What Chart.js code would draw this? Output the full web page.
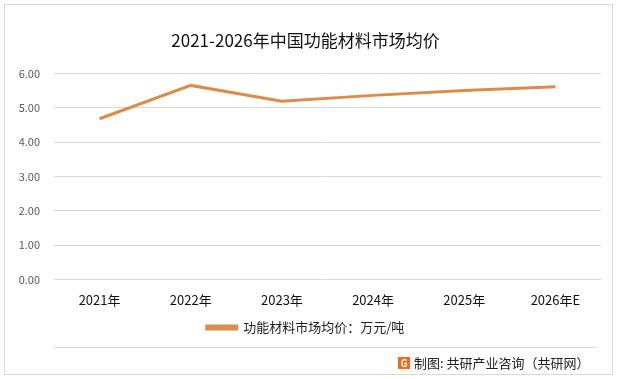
<!DOCTYPE html>
<html>
<head>
<meta charset="utf-8">
<script src="https://cdn.jsdelivr.net/npm/chart.js@4"></script>
<style>
  html, body { margin: 0; padding: 0; background: #fff; }
  #wrap { width: 617px; height: 379px; position: relative; }
</style>
</head>
<body>
<div id="wrap"><canvas id="chart" width="617" height="379"></canvas></div>
<script>
// 数据
const years = ['2021年', '2022年', '2023年', '2024年', '2025年', '2026年E'];
const avgPrice = [4.68, 5.65, 5.19, 5.36, 5.50, 5.61];
const seriesName = '功能材料市场均价：万元/吨';
const chartTitle = '2021-2026年中国功能材料市场均价';
const sourceText = '制图: 共研产业咨询（共研网）';

const lineColor = '#DC8C4A';
const fontFamily = '"Microsoft YaHei", "Noto Sans CJK SC", sans-serif';

// 外框、分隔线、底部来源
const framePlugin = {
    id: 'frame',
    beforeDraw(chart) {
        const ctx = chart.ctx;
        ctx.save();
        ctx.fillStyle = '#fff';
        ctx.fillRect(0, 0, chart.width, chart.height);
        ctx.strokeStyle = '#d9d9d9';
        ctx.lineWidth = 1;
        ctx.strokeRect(4.5, 4.5, chart.width - 9, chart.height - 9);
        ctx.restore();
    },
    afterDraw(chart) {
        const ctx = chart.ctx;
        ctx.save();
        // 分隔线
        ctx.strokeStyle = '#d9d9d9';
        ctx.beginPath();
        ctx.moveTo(54, 347.5);
        ctx.lineTo(596, 347.5);
        ctx.stroke();
        // logo
        ctx.fillStyle = '#F26B1D';
        ctx.fillRect(398, 357, 12, 12);
        ctx.fillStyle = '#fff';
        ctx.font = 'bold 10px ' + fontFamily;
        ctx.textAlign = 'center';
        ctx.textBaseline = 'middle';
        ctx.fillText('G', 404, 363.5);
        // 文字
        ctx.fillStyle = '#222';
        ctx.font = '13px ' + fontFamily;
        ctx.textAlign = 'left';
        ctx.fillText(sourceText, 414, 363.5);
        ctx.restore();
    }
};

const ctx = document.getElementById('chart').getContext('2d');
new Chart(ctx, {
    type: 'line',
    data: {
        labels: years,
        datasets: [{
            label: seriesName,
            data: avgPrice,
            borderColor: lineColor,
            backgroundColor: lineColor,
            borderWidth: 3,
            pointRadius: 0,
            tension: 0
        }]
    },
    options: {
        responsive: false,
        animation: false,
        devicePixelRatio: 1,
        layout: { padding: { left: 10, right: 16, top: 0, bottom: 35 } },
        plugins: {
            title: {
                display: true,
                text: chartTitle,
                color: '#111',
                font: { family: fontFamily, size: 17, weight: 'normal' },
                padding: { top: 30, bottom: 23 }
            },
            legend: {
                position: 'bottom',
                labels: {
                    color: '#222',
                    font: { family: fontFamily, size: 13 },
                    boxWidth: 30,
                    boxHeight: 3,
                    padding: 8
                }
            },
            tooltip: { enabled: false }
        },
        scales: {
            x: {
                offset: true,
                grid: { display: false },
                border: { display: false },
                ticks: {
                    color: '#111',
                    font: { family: fontFamily, size: 13 },
                    padding: 5
                }
            },
            y: {
                min: 0,
                max: 6,
                grid: { color: '#d9d9d9', drawTicks: false },
                border: { display: false },
                afterFit(scale) { scale.width = 44; },
                ticks: {
                    stepSize: 1,
                    color: '#595959',
                    font: { family: fontFamily, size: 11 },
                    padding: 14,
                    callback: v => v.toFixed(2)
                }
            }
        }
    },
    plugins: [framePlugin]
});
</script>
</body>
</html>
